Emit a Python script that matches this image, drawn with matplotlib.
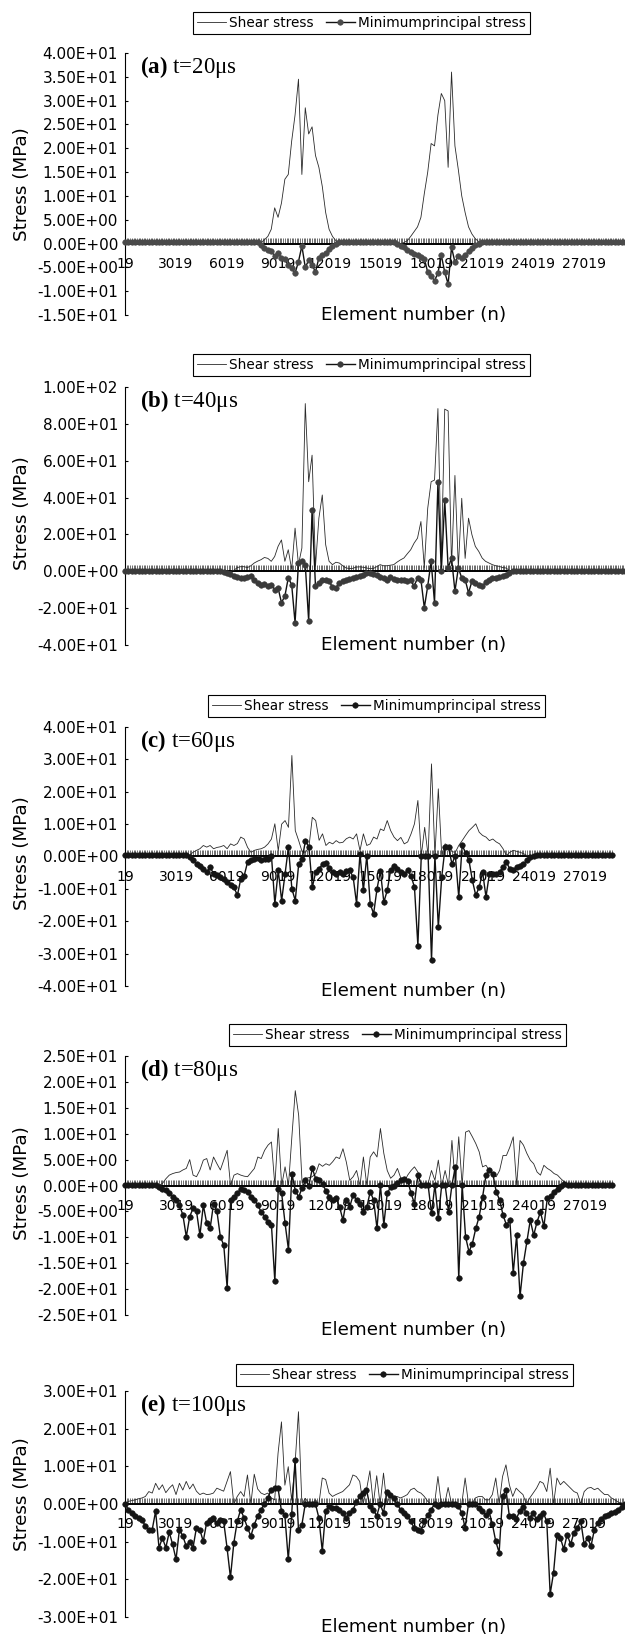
import matplotlib
matplotlib.use('Agg')
import matplotlib.pyplot as plt
import numpy as np
from matplotlib.ticker import FixedLocator, FuncFormatter

plt.rcParams['font.family'] = 'DejaVu Sans'
plt.rcParams['mathtext.fontset'] = 'custom'
plt.rcParams['mathtext.rm'] = 'Liberation Serif'
plt.rcParams['mathtext.bf'] = 'Liberation Serif:bold'

# element numbers sampled every 200 elements
elements = np.arange(19, 29420, 200)

# (a) t=20us
shear_a = [0.0] * 40 + [0.2, 0.8, 1.5, 3.0, 7.5, 5.5, 8.5, 13.5, 14.5, 21.5, 27.0, 34.5, 14.5, 28.5, 23.0, 24.5,
                        18.5, 16.0, 12.0, 6.5, 3.0, 1.5, 0.6] + [0.0] * 19 + \
          [0.2, 0.6, 1.5, 2.5, 3.5, 5.5, 10.5, 15.0, 21.0, 20.5, 27.0, 31.5, 30.0, 16.0, 36.0, 20.5, 15.5,
           10.0, 6.5, 3.5, 2.0, 1.0, 0.4] + [0.0] * 43
minp_a = [0.3] * 40 + [-0.3, -0.9, -1.3, -1.6, -2.6, -2.0, -3.0, -3.3, -4.6, -5.2, -6.2, -3.8, -0.5, -5.0, -3.5,
                       -4.4, -6.0, -3.0, -2.4, -1.9, -1.1, -0.5, 0.0] + [0.3] * 17 + \
         [-0.2, -0.5, -0.8, -1.3, -1.8, -2.2, -2.5, -2.9, -3.2, -6.0, -6.8, -7.8, -6.2, -2.5, -6.0, -8.5, -0.8,
          -3.9, -2.6, -3.0, -2.5, -1.6, -0.9, -0.4, 0.0] + [0.3] * 43

# (b) t=40us
shear_b = [0.0] * 32 + [0.5, 2.0, 2.5, 2.5, 2.0, 3.0, 4.5, 5.5, 6.3, 7.5, 7.0, 5.4, 8.0, 13.5, 17.0, 5.4, 11.7, 1.0,
                        23.4, 3.6, 12.6, 91.0, 48.6, 63.0, 2.7, 28.8, 41.4, 14.4, 5.4, 3.6, 4.9, 4.5, 3.0, 1.8,
                        1.5, 1.6, 2.3, 2.4, 2.2, 1.8, 1.4, 1.5, 2.5, 3.6, 3.0, 3.0, 3.3, 3.6, 5.0, 6.2, 7.2, 9.5,
                        11.7, 15.3, 18.0, 27.0, 2.0, 34.2, 48.6, 49.5, 88.3, 5.0, 88.0, 87.0, 3.0, 52.0, 2.0, 39.6,
                        7.0, 28.8, 19.8, 13.5, 10.8, 7.2, 5.4, 4.5, 3.6, 3.0, 2.7, 2.0, 1.8, 0.5] + [0.0] * 34
minp_b = [0.3] * 28 + [0.2, -0.3, -0.8, -1.4, -2.4, -2.9, -3.4, -3.6, -3.0, -2.7, -4.5, -6.5, -7.2, -6.8, -8.1,
                       -7.2, -9.9, -9.0, -17.0, -13.5, -3.6, -7.2, -27.9, 4.5, 5.4, 3.6, -27.0, 33.3, -8.1, -6.3,
                       -4.5, -5.0, -5.4, -8.6, -9.0, -6.3, -5.5, -4.5, -4.0, -3.6, -3.0, -2.7, -1.8, -1.2, -0.9,
                       -1.5, -2.0, -3.0, -3.6, -4.5, -3.2, -4.0, -4.5, -5.0, -4.5, -5.4, -5.0, -8.1, -3.6, -4.5,
                       -19.8, -8.0, 5.4, -17.0, 48.3, 0.0, 38.7, 1.8, 7.2, -10.8, 1.8, -3.6, -4.5, -11.7, -5.4,
                       -6.3, -7.2, -8.1, -6.0, -4.5, -3.6, -3.4, -3.2, -2.7, -1.8, -0.9, 0.0] + [0.3] * 33

# (c) t=60us
shear_c = [0.0] * 19 + [0.5, 1.3, 1.9, 2.4, 3.4, 2.9, 3.4, 2.4, 2.8, 3.0, 3.4, 2.4, 3.9, 3.4, 4.0, 6.0, 5.4, 2.8,
                        1.3, 1.9, 2.2, 2.4, 2.9, 3.9, 5.4, 10.1, 1.8, 10.0, 11.1, 9.0, 31.2, 8.0, 4.9, 1.5, 1.3,
                        2.9, 12.1, 11.1, 5.0, 7.0, 3.4, 4.4, 3.9, 4.9, 4.2, 4.4, 5.5, 6.0, 5.4, 7.0, 1.8, 7.0, 3.4,
                        3.9, 6.0, 5.4, 8.5, 8.0, 11.1, 8.0, 6.0, 4.9, 5.9, 3.9, 4.5, 7.0, 10.1, 17.3, 0.3, 9.0,
                        0.3, 28.6, 0.3, 20.9, 0.3, 3.9, 3.4, 1.5, 1.3, 3.4, 4.9, 6.5, 8.0, 9.0, 10.1, 7.5, 6.5,
                        6.0, 4.9, 5.4, 4.5, 3.9, 2.4, 0.3, 1.3, 1.9, 1.6, 1.3, 0.9, 0.3, 0.1] + [0.0] * 24
minp_c = [0.5] * 19 + [-0.2, -1.2, -2.3, -2.8, -3.8, -4.8, -3.3, -5.3, -5.8, -6.4, -6.9, -7.9, -8.9, -9.5, -12.0,
                       -6.9, -5.9, -1.7, -1.0, -0.8, -0.5, -1.2, -0.8, -0.8, 0.3, -14.6, -4.3, -13.6, -5.3, 2.9,
                       -10.0, -13.6, -2.3, -0.8, 4.9, 2.9, -9.5, -4.8, -3.8, -2.3, -2.0, -3.5, -4.8, -5.3, -4.8,
                       -5.3, -4.5, -4.3, -6.4, -14.6, 0.8, -10.5, 0.3, -14.6, -17.7, -10.0, -4.5, -14.1, -10.5,
                       -4.3, -2.8, -3.8, -4.8, -5.3, -4.3, -6.0, -9.5, -27.5, 0.3, 0.3, 0.3, -32.0, 0.3, -21.8,
                       -6.4, 2.9, 2.9, -2.3, 0.3, -12.5, 3.4, 1.2, -1.2, -7.4, -12.0, -9.5, -4.8, -12.5, -5.3,
                       -5.3, -5.3, -4.8, -3.3, -1.8, -3.8, -4.3, -3.3, -2.9, -2.3, -1.2, -0.3, 0.3] + [0.5] * 23

# (d) t=80us
shear_d = [0.0] * 11 + [0.4, 1.3, 2.0, 2.3, 2.5, 2.6, 3.0, 3.3, 5.0, 2.0, 1.7, 3.0, 4.9, 5.2, 3.0, 5.5, 4.2, 3.0,
                        4.9, 6.8, 0.0, 2.0, 2.3, 2.0, 1.8, 1.7, 2.5, 3.3, 5.5, 5.2, 6.8, 7.8, 8.4, 0.0, 11.0, 0.0,
                        3.6, 0.0, 9.4, 18.3, 13.5, 0.5, 1.4, 1.5, 1.7, 2.3, 4.2, 3.7, 4.2, 3.9, 4.6, 5.5, 5.2, 7.1,
                        4.5, 1.0, 1.7, 2.9, 0.0, 5.5, 0.0, 5.5, 6.5, 5.5, 11.0, 6.2, 2.9, 1.4, 2.0, 3.3, 1.4, 0.7,
                        2.0, 2.9, 3.6, 2.6, 0.0, 0.0, 0.4, 2.9, 1.0, 4.9, 0.0, 2.9, 0.0, 8.7, 0.0, 9.4, 0.0, 10.3,
                        10.6, 9.4, 8.1, 6.5, 3.6, 3.9, 2.9, 2.0, 1.7, 2.9, 5.8, 5.8, 7.4, 9.4, 0.0, 8.7, 7.8, 6.2,
                        4.9, 4.2, 2.6, 2.0, 3.9, 3.3, 2.9, 2.3, 2.0, 1.3, 0.7, 0.3] + [0.0] * 13
minp_d = [0.1] * 10 + [-0.3, -0.6, -0.9, -1.5, -2.2, -2.8, -3.8, -5.7, -9.9, -6.0, -4.4, -5.0, -9.6, -3.8, -7.3,
                       -8.3, -3.5, -5.0, -9.9, -11.5, -19.8, -2.8, -2.2, -1.5, -0.6, -0.8, -1.2, -2.2, -2.8, -3.8,
                       -5.1, -6.0, -7.0, -7.6, -18.5, -0.6, -1.5, -7.3, -12.4, 2.3, -1.0, -2.2, -0.5, 1.0, 0.0,
                       3.3, 1.3, 1.0, 0.3, -1.0, -2.2, -2.8, -2.5, -4.1, -6.7, -2.8, -4.1, -1.8, -2.8, -3.5, -5.1,
                       -4.2, -1.2, -2.8, -8.3, 0.1, -7.6, -1.5, -0.3, 0.0, 0.4, 1.0, 1.3, 0.9, -1.5, -3.5, 2.0,
                       0.1, 0.1, 0.1, -5.4, 0.1, -6.3, 0.1, 0.1, -5.1, 0.1, 3.6, -17.9, 0.1, -9.9, -12.8, -11.2,
                       -8.3, -6.0, -2.2, 2.0, 2.9, 2.3, -1.2, -2.8, -5.7, -7.6, -6.7, -16.9, -9.6, -21.4, -15.0,
                       -10.8, -6.7, -9.6, -7.0, -5.1, -7.9, -2.5, -2.0, -1.2, -0.6, 0.0, 0.3] + [0.1] * 14

# (e) t=100us
shear_e = [0.0, 0.7, 0.9, 1.1, 1.4, 1.6, 2.0, 3.3, 2.9, 5.5,
           3.8, 5.1, 3.0, 4.2, 5.1, 2.5, 5.5, 3.7, 6.0, 4.0,
           5.3, 3.4, 2.5, 2.9, 2.5, 2.6, 2.9, 4.2, 3.8, 3.4,
           6.0, 8.6, 0.0, 2.0, 3.3, 2.0, 7.7, 0.0, 7.9, 4.0,
           2.9, 2.5, 2.9, 1.6, 1.1, 13.5, 21.8, 5.0, 9.9, 1.0,
           10.8, 24.5, 0.0, 1.5, 0.3, 0.0, 1.1, 0.0, 6.9, 6.5,
           2.9, 2.0, 2.5, 2.9, 3.3, 4.2, 5.1, 7.7, 7.3, 6.0,
           0.0, 3.8, 8.8, 0.0, 7.5, 0.0, 8.2, 0.0, 2.5, 1.6,
           2.0, 1.6, 2.0, 2.5, 3.8, 4.2, 3.3, 2.9, 2.0, 0.7,
           0.0, 0.0, 7.3, 0.0, 0.0, 4.4, 0.0, 0.0, 0.0, 0.0,
           6.9, 0.0, 0.0, 1.6, 2.0, 2.0, 1.1, 1.1, 2.5, 6.9,
           0.0, 7.3, 10.4, 5.1, 2.0, 4.2, 3.3, 2.5, 0.0, 1.6,
           2.9, 4.2, 6.0, 5.5, 3.3, 9.5, 0.0, 6.9, 5.1, 6.0,
           5.1, 4.2, 3.3, 2.9, 0.0, 3.3, 4.2, 4.4, 3.8, 4.2,
           3.3, 2.5, 2.5, 1.6, 1.1, 0.5, 0.3, 0.0]
minp_e = [0.0, -1.5, -2.4, -3.3, -3.7, -4.2, -5.9, -6.8, -6.8, -1.9,
          -11.6, -9.0, -11.6, -7.5, -10.7, -14.7, -6.8, -8.5, -11.2, -10.0,
          -11.6, -6.3, -6.8, -9.9, -5.0, -4.2, -3.7, -5.0, -4.2, -4.6,
          -11.6, -19.5, -10.3, -4.6, -1.5, -3.7, -6.3, -8.5, -5.5, -3.2,
          -1.5, 0.0, 1.6, 3.8, 4.2, 4.2, -1.9, -3.0, -14.7, -2.7,
          11.7, -6.8, -5.5, 0.0, 0.0, 0.0, 0.0, -3.7, -12.5, -1.8,
          -0.6, -1.0, -1.0, -1.5, -2.4, -3.7, -2.4, -1.6, 0.5, 2.0,
          2.9, 3.8, -0.6, -1.5, -3.2, 0.0, -2.4, 3.3, 2.5, 1.6,
          0.0, -1.5, -2.4, -3.2, -4.6, -6.3, -6.8, -7.2, -4.6, -2.9,
          -1.5, 0.0, -0.4, 0.0, 0.0, 0.0, 0.0, 0.0, -0.4, -2.4,
          -6.3, 0.0, 0.0, 0.0, -1.0, -1.9, -2.9, -1.9, -5.3, -9.9,
          -12.9, 2.0, 3.8, -3.2, -3.2, -4.1, -1.9, -0.8, -2.4, -3.7,
          -2.4, -4.1, -3.2, -2.4, -4.6, -23.9, -18.2, -8.1, -9.0, -12.0,
          -8.1, -10.7, -7.6, -6.3, -4.6, -10.7, -9.0, -11.2, -6.8, -5.0,
          -4.1, -3.2, -2.8, -2.4, -2.0, -1.5, -0.7, 0.0]

labels = ['a', 'b', 'c', 'd', 'e']
times = ['20', '40', '60', '80', '100']
y_limits = [(-15, 40, 5), (-40, 100, 20), (-40, 40, 10), (-25, 25, 5), (-30, 30, 10)]
x_ends = [29419, 29419, 28619, 28619, 29419]

W, H = 625.0, 1637.0
fig = plt.figure(figsize=(W / 100, H / 100), dpi=100, facecolor='white')

# panel boxes in pixels: left, right, top, bottom
boxes = [(125, 625, 53, 315), (125, 625, 387, 645), (125, 612, 727, 986),
         (125, 612, 1056, 1315), (125, 625, 1391, 1617)]
legend_xy = [(193, 12), (193, 354), (208, 695), (229, 1024), (236, 1364)]
xlabel_y = [315, 645, 991, 1330, 1627]
ylabel_y = [184, 513, 853, 1183, 1494]
marker_colors = ['#4a4a4a', '#3a3a3a', '#151515', '#151515', '#151515']

series = [(shear_a, minp_a), (shear_b, minp_b), (shear_c, minp_c), (shear_d, minp_d), (shear_e, minp_e)]

for k in range(5):
    left, right, top, bottom = boxes[k]
    ax = fig.add_axes([left / W, 1 - bottom / H, (right - left) / W, (bottom - top) / H])
    shear, minp = series[k]
    x = elements[:len(shear)]

    l_shear, = ax.plot(x, shear, color='#2a2a2a', lw=0.6, zorder=3, clip_on=False)
    l_min, = ax.plot(x, minp, color='#111111', lw=1.0, marker='o', markersize=4.0,
                     markerfacecolor=marker_colors[k], markeredgecolor=marker_colors[k],
                     markeredgewidth=0.4, zorder=4, clip_on=False)

    ymin, ymax, ystep = y_limits[k]
    ax.set_ylim(ymin, ymax)
    ax.set_xlim(19, x_ends[k])
    ax.set_yticks(np.arange(ymin, ymax + ystep / 2, ystep))
    ax.yaxis.set_major_formatter(FuncFormatter(lambda v, p: f'{v:.2E}'))

    # labels every 3000 elements, a tick mark at every element group
    ax.xaxis.set_major_locator(FixedLocator(np.arange(19, x_ends[k], 3000)))
    ax.xaxis.set_minor_locator(FixedLocator(np.arange(19, x_ends[k] + 1, 100)))
    ax.xaxis.set_major_formatter(FuncFormatter(lambda v, p: f'{int(round(v))}'))

    for s in ['top', 'right']:
        ax.spines[s].set_visible(False)
    ax.spines['bottom'].set_position(('data', 0))
    ax.spines['bottom'].set_linewidth(1.4)
    ax.spines['left'].set_linewidth(0.8)

    ax.tick_params(axis='y', direction='in', length=2.5, width=0.8, labelsize=11, pad=5)
    ax.tick_params(axis='x', which='both', direction='in', length=4, width=0.6, color='#555555',
                   labelsize=10, pad=9.5, labelbottom=(k != 1))
    ax.set_facecolor('none')

    ax.annotate(r'$\mathbf{(' + labels[k] + ')}$ t=' + times[k] + 'μs', xy=(0, 1), xycoords='axes fraction',
                xytext=(11, -1), textcoords='offset points', ha='left', va='top',
                fontsize=16.5, family='Liberation Serif')

    leg = ax.legend([l_shear, l_min], ['Shear stress', 'Minimumprincipal stress'], loc='upper left',
                    bbox_to_anchor=(legend_xy[k][0] / W, 1 - legend_xy[k][1] / H),
                    bbox_transform=fig.transFigure, ncol=2, fontsize=9.8, frameon=True, fancybox=False,
                    edgecolor='black', framealpha=1, borderpad=0.3, handlelength=2.1, handletextpad=0.25,
                    columnspacing=0.9, borderaxespad=0, numpoints=1)
    leg.get_frame().set_linewidth(0.8)

    fig.text(414 / W, 1 - xlabel_y[k] / H, 'Element number (n)', ha='center', va='center', fontsize=13.2)
    fig.text(22 / W, 1 - ylabel_y[k] / H, 'Stress (MPa)', ha='center', va='center', rotation=90, fontsize=13.2)

fig.savefig('out.png', dpi=100, facecolor='white')
